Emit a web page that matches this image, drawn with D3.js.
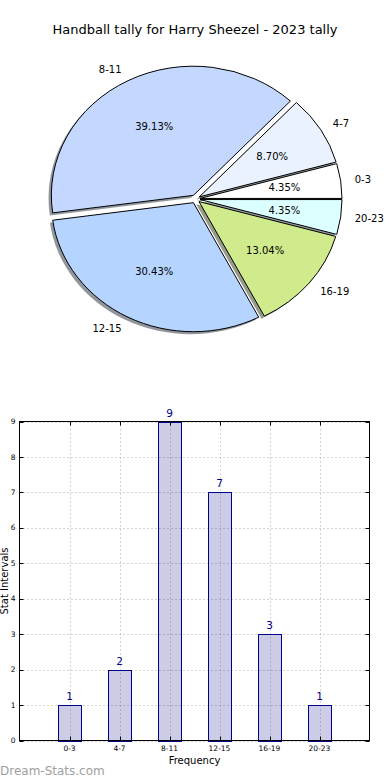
<!DOCTYPE html>
<html><head><meta charset="utf-8">
<script src="https://cdn.jsdelivr.net/npm/d3@7/dist/d3.min.js"></script>
<style>body{margin:0;background:#fff}svg{display:block;font-family:"DejaVu Sans",sans-serif}</style>
</head><body><svg id="c" width="390" height="780"></svg>
<script>
const categories = ["0-3","4-7","8-11","12-15","16-19","20-23"];
const counts = [1,2,9,7,3,1];
const percentLabels = ["4.35%","8.70%","39.13%","30.43%","13.04%","4.35%"];
const sliceColors = ["#ffffff","#eaf2ff","#c4d8ff","#b5d4ff","#d0eb8b","#dcffff"];
const yTicks = [0,1,2,3,4,5,6,7,8,9];
const title = "Handball tally for Harry Sheezel - 2023 tally";

const svg = d3.select("#c");
svg.append("rect").attr("width",390).attr("height",780).attr("fill","#fff");

svg.append("text").attr("x",195).attr("y",34).attr("text-anchor","middle")
  .attr("font-size",13).text(title);

// ---------- pie ----------
const cx = 195.5, cy = 199, rx = 142, ry = 129, explode = 0.032;
const pie = d3.pie().sort(null).value(d=>d).startAngle(Math.PI/2).endAngle(Math.PI/2 - 2*Math.PI);
const arcs = pie(counts);
const arcGen = d3.arc().innerRadius(0).outerRadius(1);
const gPie = svg.append("g");
function center(a){
  const m = (a.startAngle + a.endAngle)/2;
  return [cx + explode*rx*Math.sin(m), cy - explode*ry*Math.cos(m)];
}
// shadows
arcs.forEach((a,i)=>{
  const [x,y] = center(a);
  const c = d3.rgb(sliceColors[i]);
  gPie.append("path").attr("d",arcGen(a))
    .attr("transform",`translate(${x-0.02*rx},${y+0.02*ry}) scale(${rx},${ry})`)
    .attr("fill",d3.rgb(c.r*0.3,c.g*0.3,c.b*0.3)).attr("fill-opacity",0.55);
});
arcs.forEach((a,i)=>{
  const [x,y] = center(a);
  gPie.append("path").attr("d",arcGen(a))
    .attr("transform",`translate(${x},${y}) scale(${rx},${ry})`)
    .attr("fill",sliceColors[i]).attr("stroke","#000").attr("stroke-width",1)
    .attr("vector-effect","non-scaling-stroke");
});
arcs.forEach((a,i)=>{
  const [x,y] = center(a);
  const m = (a.startAngle + a.endAngle)/2;
  const sx = Math.sin(m), sy = -Math.cos(m);
  gPie.append("text").attr("x",x+1.1*rx*sx).attr("y",y+1.1*ry*sy).attr("dy","0.35em")
    .attr("text-anchor", sx>0 ? "start":"end").attr("font-size",10).text(categories[i]);
  gPie.append("text").attr("x",x+0.6*rx*sx).attr("y",y+0.6*ry*sy).attr("dy","0.35em")
    .attr("text-anchor","middle").attr("font-size",10).text(percentLabels[i]);
});

// ---------- bar chart ----------
const L=19.5, R=369.5, T=421.5, B=740.5;
const x = d3.scaleLinear().domain([-1,6]).range([L,R]);
const y = d3.scaleLinear().domain([0,9]).range([B,T]);
const g = svg.append("g");
const idx = d3.range(categories.length);
// grid
g.selectAll(".gy").data(yTicks).join("line")
  .attr("x1",L).attr("x2",R).attr("y1",d=>Math.round(y(d))+0.5).attr("y2",d=>Math.round(y(d))+0.5)
  .attr("stroke","#a8a8a8").attr("stroke-dasharray","1,3");
g.selectAll(".gx").data(idx).join("line")
  .attr("x1",d=>Math.round(x(d))+0.5).attr("x2",d=>Math.round(x(d))+0.5).attr("y1",T).attr("y2",B)
  .attr("stroke","#a8a8a8").attr("stroke-dasharray","1,3");
// bars
const bw = 0.46;
g.selectAll(".bar").data(counts).join("rect")
  .attr("x",(d,i)=>Math.round(x(i-bw/2))+0.5).attr("width",(d,i)=>Math.round(x(bw)-x(0)))
  .attr("y",d=>Math.round(y(d))+0.5).attr("height",d=>Math.round(y(0))-Math.round(y(d)))
  .attr("fill","#000080").attr("fill-opacity",0.2).attr("stroke","#00008b").attr("stroke-width",1);
g.selectAll(".vl").data(counts).join("text")
  .attr("x",(d,i)=>x(i)).attr("y",d=>y(d)-5).attr("text-anchor","middle")
  .attr("font-size",10.5).attr("fill","#00008b").text(d=>d);
// frame
g.append("rect").attr("x",L).attr("y",T).attr("width",R-L).attr("height",B-T)
  .attr("fill","none").attr("stroke","#000").attr("stroke-width",1);
// ticks inward
g.selectAll(".tyl").data(yTicks).join("line")
  .attr("x1",L).attr("x2",L+4).attr("y1",d=>Math.round(y(d))+0.5).attr("y2",d=>Math.round(y(d))+0.5).attr("stroke","#000");
g.selectAll(".tyr").data(yTicks).join("line")
  .attr("x1",R-4).attr("x2",R).attr("y1",d=>Math.round(y(d))+0.5).attr("y2",d=>Math.round(y(d))+0.5).attr("stroke","#000");
g.selectAll(".txb").data(idx).join("line")
  .attr("x1",d=>Math.round(x(d))+0.5).attr("x2",d=>Math.round(x(d))+0.5).attr("y1",B).attr("y2",B-4).attr("stroke","#000");
g.selectAll(".txt").data(idx).join("line")
  .attr("x1",d=>Math.round(x(d))+0.5).attr("x2",d=>Math.round(x(d))+0.5).attr("y1",T).attr("y2",T+4).attr("stroke","#000");
// tick labels
g.selectAll(".yl").data(yTicks).join("text")
  .attr("x",L-4).attr("y",d=>y(d)).attr("dy","0.35em").attr("text-anchor","end")
  .attr("font-size",7.5).text(d=>d);
g.selectAll(".xl").data(categories).join("text")
  .attr("x",(d,i)=>x(i)).attr("y",B+10).attr("text-anchor","middle")
  .attr("font-size",7.5).text(d=>d);
svg.append("text").attr("x",(L+R)/2).attr("y",764).attr("text-anchor","middle")
  .attr("font-size",10).text("Frequency");
svg.append("text").attr("transform",`translate(7.5,${(T+B)/2}) rotate(-90)`).attr("text-anchor","middle")
  .attr("font-size",10).text("Stat Intervals");
svg.append("text").attr("x",0).attr("y",775).attr("font-size",12)
  .attr("fill","#a0a0a0").text("Dream-Stats.com");
</script></body></html>
